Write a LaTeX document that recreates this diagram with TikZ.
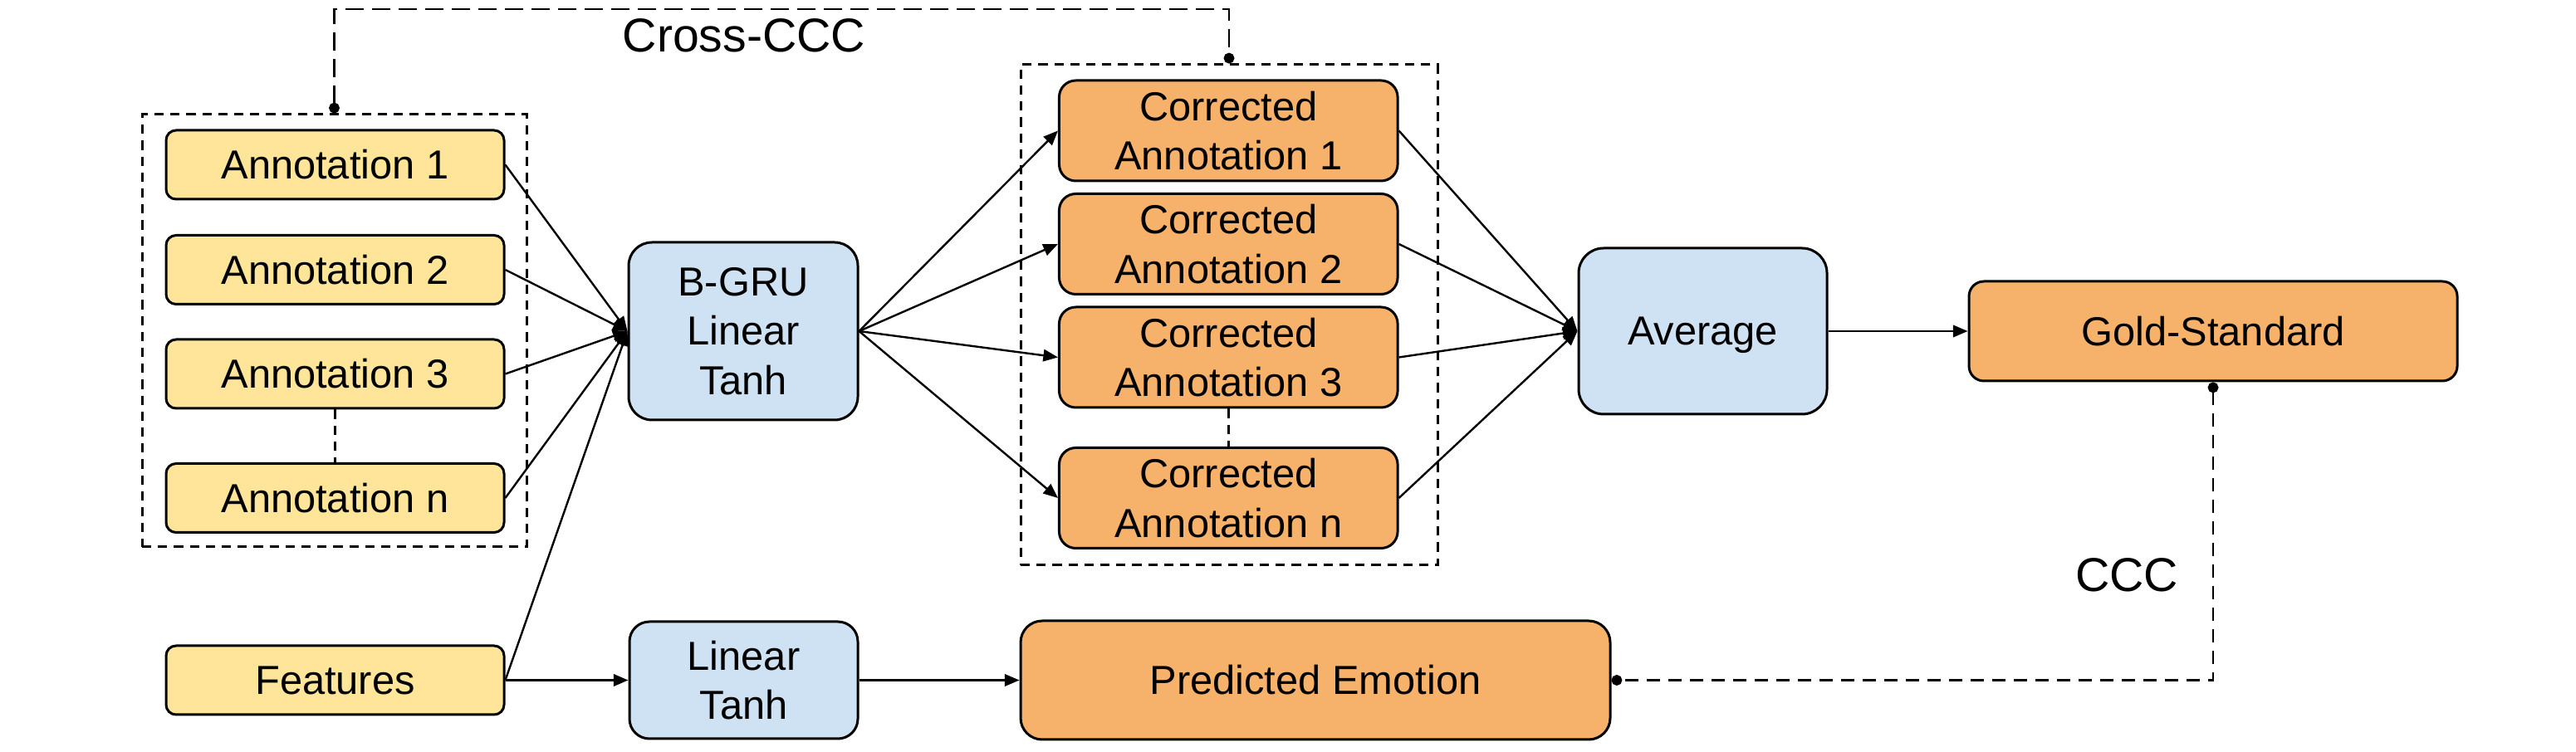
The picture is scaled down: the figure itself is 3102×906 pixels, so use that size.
\documentclass[tikz,border=0pt]{standalone}
\usepackage{fontspec}
\setmainfont{Liberation Sans}
\usetikzlibrary{arrows.meta}
\definecolor{ylw}{HTML}{FFE599}
\definecolor{blu}{HTML}{CFE2F3}
\definecolor{org}{HTML}{F6B26B}
\begin{document}
\begin{tikzpicture}[x=0.25pt,y=-0.25pt,
  box/.style={draw=black, line width=0.75pt, align=center, inner sep=0pt, font=\fontsize{12.2}{14.9}\selectfont},
  ybox/.style={box, fill=ylw, minimum width=101.75pt, minimum height=20.75pt, rounded corners=3pt},
  cbox/.style={box, fill=org, minimum width=101.9pt, minimum height=30.25pt, rounded corners=5pt},
  grp/.style={draw=black, line width=0.75pt, dash pattern=on 2.8pt off 2pt, inner sep=0pt},
  arr/.style={line width=0.6pt, -{Triangle[length=4.4pt,width=3.6pt]}},
  dotline/.style={line width=0.7pt, {Circle[length=3.2pt]}-{Circle[length=3.2pt]}},
  lbl/.style={font=\fontsize{14.3}{17}\selectfont, inner sep=0pt}
]
\useasboundingbox (0,0) rectangle (3102,906);

% groups
\node[grp, minimum width=115.75pt, minimum height=130.25pt] (lgrp) at (402.5,398.5) {};
\node[grp, minimum width=125.5pt, minimum height=150.75pt] (rgrp) at (1480,379.5) {};

% inputs
\node[ybox] (a1) at (403.5,198.5) {Annotation 1};
\node[ybox] (a2) at (403.5,325) {Annotation 2};
\node[ybox] (a3) at (403.5,450.5) {Annotation 3};
\node[ybox] (an) at (403.5,600) {Annotation n};
\node[ybox] (feat) at (403.5,819.5) {Features};

% blue boxes
\node[box, fill=blu, minimum width=69pt, minimum height=53.5pt, rounded corners=7pt] (bgru) at (895,399) {B-GRU\\Linear\\Tanh};
\node[box, fill=blu, minimum width=68.75pt, minimum height=35.25pt, rounded corners=6pt] (lin) at (895.5,819.5) {Linear\\Tanh};

% corrected
\node[cbox] (c1) at (1479.25,157.5) {Corrected\\Annotation 1};
\node[cbox] (c2) at (1479.25,294) {Corrected\\Annotation 2};
\node[cbox] (c3) at (1479.25,430.5) {Corrected\\Annotation 3};
\node[cbox] (cn) at (1479.25,600) {Corrected\\Annotation n};

\node[box, fill=blu, minimum width=74.75pt, minimum height=50pt, rounded corners=7.5pt, text depth=0pt] (avg) at (2050.5,399) {Average};
\node[box, fill=org, minimum width=147pt, minimum height=30pt, rounded corners=4.5pt] (gold) at (2665,399) {Gold-Standard};
\node[box, fill=org, minimum width=177.5pt, minimum height=35.75pt, rounded corners=6.5pt] (pred) at (1584,819.5) {Predicted Emotion};

% labels
\node[lbl] (lcross) at (896,43) {Cross-CCC};
\node[lbl] (lccc) at (2561,693) {CCC};

% arrows
\foreach \s in {a1,a2,a3,an,feat} \draw[arr] (\s.east) -- (bgru.west);
\foreach \t in {c1,c2,c3,cn} \draw[arr] (bgru.east) -- (\t.west);
\foreach \s in {c1,c2,c3,cn} \draw[arr] (\s.east) -- (avg.west);
\draw[arr] (avg.east) -- (gold.west);
\draw[arr] (feat.east) -- (lin.west);
\draw[arr] (lin.east) -- (pred.west);

% dotted continuation
\draw[line width=0.7pt, dash pattern=on 2.8pt off 2pt] (a3.south) -- (an.north);
\draw[line width=0.7pt, dash pattern=on 2.8pt off 2pt] (c3.south) -- (cn.north);

% CCC links
\coordinate (ctop) at (940,11);
\draw[dotline, dash pattern=on 5.5pt off 2.5pt] (lgrp.north) |- (ctop) -| (rgrp.north);
\draw[dotline, dash pattern=on 4pt off 2.5pt] (gold.south) |- (pred.east);
\end{tikzpicture}
\end{document}
